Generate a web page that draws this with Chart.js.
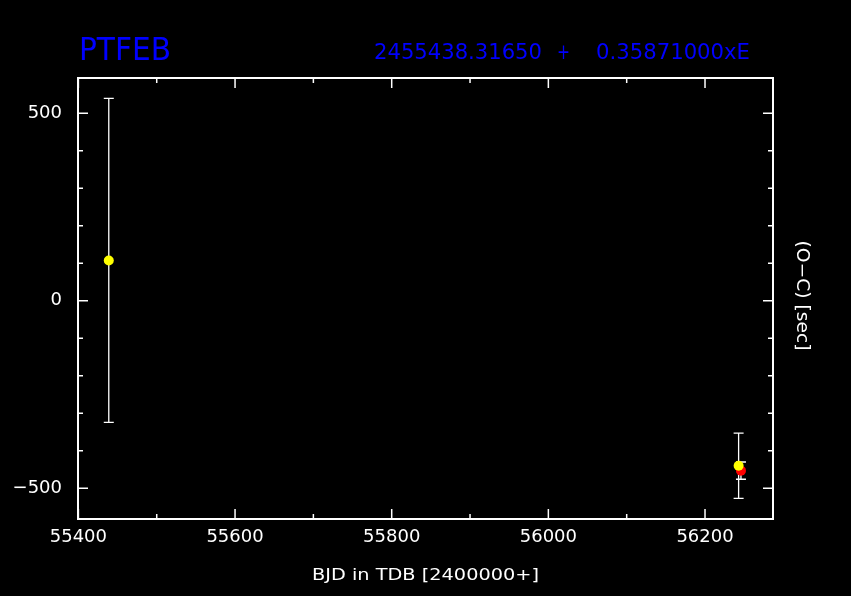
<!DOCTYPE html>
<html>
<head>
<meta charset="utf-8">
<script src="https://cdn.jsdelivr.net/npm/chart.js@4.4.1/dist/chart.umd.min.js"></script>
<style>
  html, body { margin: 0; padding: 0; background: #000; overflow: hidden; }
  #wrap { width: 851px; height: 596px; }
</style>
</head>
<body>
<div id="wrap"><canvas id="oc" width="851" height="596"></canvas></div>
<script>
// O-C diagram for PTFEB
const starName = 'PTFEB';
const ephemeris = ['2455438.31650', '+', '0.35871000xE'];
const xTitle = 'BJD in TDB [2400000+]';
const yTitle = '(O\u2212C) [sec]';

// yellow points (with error bars)
const yellowBjd = [55438.8, 56242.9];
const yellowOc = [107.5, -440];
const yellowErr = [432, 87];
// red point
const redBjd = [56245.9];
const redOc = [-453];
const redErr = [23];

// axes
const xRange = [55399.5, 56286.8];
const yRange = [-582, 594];
const xMajor = [55400, 55600, 55800, 56000, 56200];
const xMinor = [55500, 55700, 55900, 56100];
const yMajor = [-500, 0, 500];
const yMinor = [-400, -300, -200, -100, 100, 200, 300, 400];

const FONT = '"DejaVu Sans", "Liberation Sans", sans-serif';

function toPoints(xs, ys, es) {
  return xs.map((x, i) => ({ x: x, y: ys[i], err: es[i] }));
}

// draw text stretched/squeezed to a given width
function fitText(ctx, text, x, y, width, size, color) {
  ctx.save();
  ctx.font = size + 'px ' + FONT;
  ctx.fillStyle = color;
  ctx.textAlign = 'left';
  ctx.textBaseline = 'alphabetic';
  const w = ctx.measureText(text).width;
  ctx.translate(x, y);
  ctx.scale(width / w, 1);
  ctx.fillText(text, 0, 0);
  ctx.restore();
}

const pgplotLook = {
  id: 'pgplotLook',
  beforeDraw(chart) {
    const ctx = chart.ctx;
    ctx.save();
    ctx.fillStyle = '#000';
    ctx.fillRect(0, 0, chart.width, chart.height);
    ctx.restore();
  },
  beforeDatasetsDraw(chart) {
    const ctx = chart.ctx;
    const xs = chart.scales.x, ys = chart.scales.y;
    ctx.save();
    ctx.strokeStyle = '#fff';
    ctx.lineWidth = 1.3;
    chart.data.datasets.forEach((ds) => {
      ds.data.forEach((p) => {
        const px = xs.getPixelForValue(p.x);
        const top = ys.getPixelForValue(p.y + p.err);
        const bot = ys.getPixelForValue(p.y - p.err);
        ctx.beginPath();
        ctx.moveTo(px, top); ctx.lineTo(px, bot);
        ctx.moveTo(px - 5, top); ctx.lineTo(px + 5, top);
        ctx.moveTo(px - 5, bot); ctx.lineTo(px + 5, bot);
        ctx.stroke();
      });
    });
    ctx.restore();
  },
  afterDraw(chart) {
    const ctx = chart.ctx;
    const a = chart.chartArea;
    const xs = chart.scales.x, ys = chart.scales.y;
    ctx.save();
    ctx.strokeStyle = '#fff';
    // ticks on all four sides
    ctx.lineWidth = 1.5;
    ctx.beginPath();
    const xTick = (v, len) => {
      const px = xs.getPixelForValue(v);
      ctx.moveTo(px, a.bottom); ctx.lineTo(px, a.bottom - len);
      ctx.moveTo(px, a.top); ctx.lineTo(px, a.top + len);
    };
    const yTick = (v, len) => {
      const py = ys.getPixelForValue(v);
      ctx.moveTo(a.left, py); ctx.lineTo(a.left + len, py);
      ctx.moveTo(a.right, py); ctx.lineTo(a.right - len, py);
    };
    xMajor.forEach((v) => xTick(v, 10));
    xMinor.forEach((v) => xTick(v, 5));
    yMajor.forEach((v) => yTick(v, 10));
    yMinor.forEach((v) => yTick(v, 5));
    ctx.stroke();
    // frame
    ctx.lineWidth = 2;
    ctx.strokeRect(a.left, a.top, a.right - a.left, a.bottom - a.top);
    ctx.restore();

    // titles
    fitText(ctx, starName, 79, 59.5, 92, 32, '#0000ff');
    fitText(ctx, ephemeris[0], 374, 59.3, 168, 22, '#0000ff');
    fitText(ctx, ephemeris[1], 557, 59.3, 13, 22, '#0000ff');
    fitText(ctx, ephemeris[2], 596, 59.3, 154, 22, '#0000ff');
    fitText(ctx, xTitle, 312, 579.5, 227, 15, '#fff');
    ctx.save();
    ctx.translate(797, 240.5);
    ctx.rotate(Math.PI / 2);
    fitText(ctx, yTitle, 0, 0, 110, 17, '#fff');
    ctx.restore();
  }
};

const tickFont = { family: FONT, size: 18 };

new Chart(document.getElementById('oc').getContext('2d'), {
  type: 'scatter',
  data: {
    datasets: [
      {
        label: 'yellow',
        data: toPoints(yellowBjd, yellowOc, yellowErr),
        backgroundColor: '#ffff00',
        borderWidth: 0,
        pointRadius: 5,
        order: 0,
      },
      {
        label: 'red',
        data: toPoints(redBjd, redOc, redErr),
        backgroundColor: '#ff0000',
        borderWidth: 0,
        pointRadius: 5,
        order: 1,
      },
    ],
  },
  options: {
    responsive: false,
    animation: false,
    devicePixelRatio: 1,
    layout: { padding: 0 },
    plugins: {
      legend: { display: false },
      tooltip: { enabled: false },
      title: { display: false },
    },
    scales: {
      x: {
        type: 'linear',
        position: 'bottom',
        min: xRange[0],
        max: xRange[1],
        afterBuildTicks: (s) => { s.ticks = xMajor.map((v) => ({ value: v })); },
        afterFit: (s) => { s.height = 77; },
        grid: { display: false, drawTicks: false },
        border: { display: false },
        ticks: {
          color: '#fff',
          font: tickFont,
          padding: 8,
          maxRotation: 0,
          autoSkip: false,
          callback: (v) => String(v),
        },
      },
      y: {
        type: 'linear',
        position: 'left',
        min: yRange[0],
        max: yRange[1],
        afterBuildTicks: (s) => { s.ticks = yMajor.map((v) => ({ value: v })); },
        afterFit: (s) => { s.width = 78; },
        grid: { display: false, drawTicks: false },
        border: { display: false },
        ticks: {
          color: '#fff',
          font: tickFont,
          padding: 16,
          autoSkip: false,
          callback: (v) => (v < 0 ? '\u2212' + Math.abs(v) : String(v)),
        },
      },
      x2: {
        type: 'linear',
        position: 'top',
        min: xRange[0],
        max: xRange[1],
        afterFit: (s) => { s.height = 78; },
        grid: { display: false },
        border: { display: false },
        ticks: { display: false },
      },
      y2: {
        type: 'linear',
        position: 'right',
        min: yRange[0],
        max: yRange[1],
        afterFit: (s) => { s.width = 78; },
        grid: { display: false },
        border: { display: false },
        ticks: { display: false },
      },
    },
  },
  plugins: [pgplotLook],
});
</script>
</body>
</html>
